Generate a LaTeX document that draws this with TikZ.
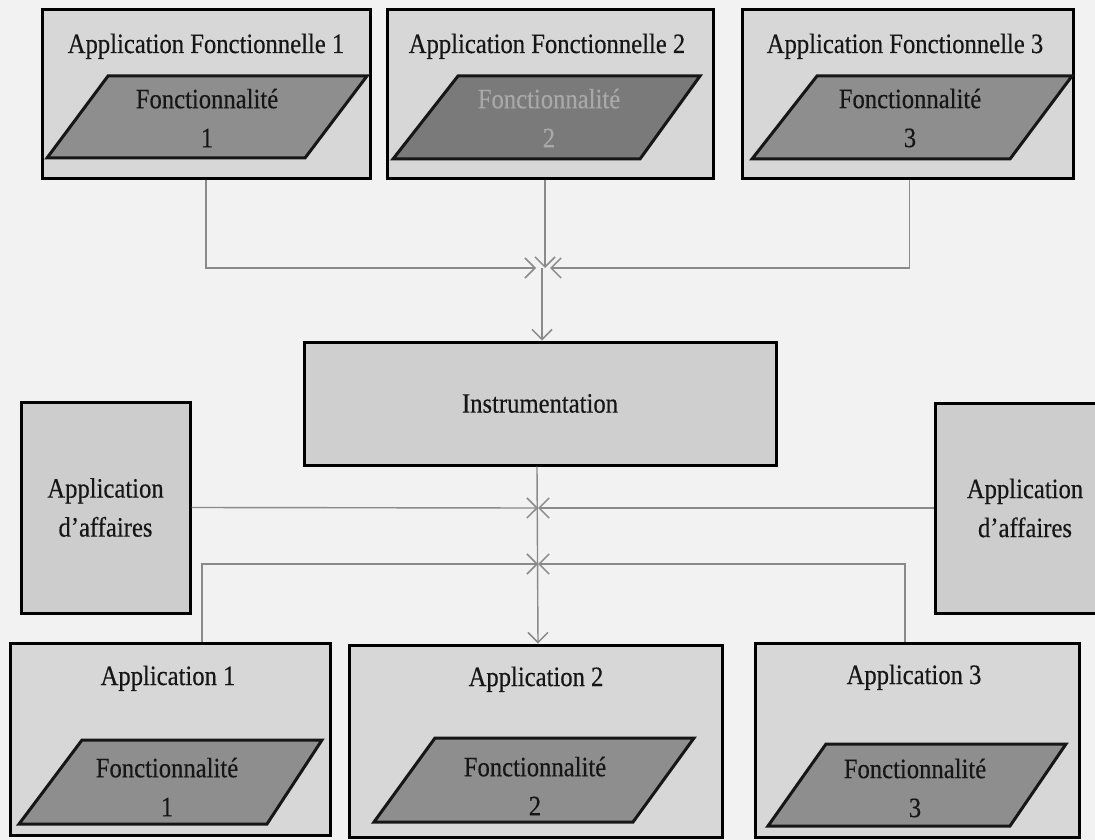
\documentclass[tikz,border=0pt]{standalone}
\usepackage{fontspec}
\newfontfamily\diagfont[FakeStretch=0.88,FakeBold=0.4]{Liberation Serif}
\usetikzlibrary{arrows.meta}
\definecolor{pagebg}{HTML}{F2F2F2}
\definecolor{boxfill}{HTML}{D7D7D7}
\definecolor{instfill}{HTML}{CFCFCF}
\definecolor{bizfill}{HTML}{CDCDCD}
\definecolor{parafill}{HTML}{8E8E8E}
\definecolor{paradark}{HTML}{7A7A7A}
\definecolor{linkgray}{HTML}{8A8A8A}
\definecolor{ink}{HTML}{161616}
\definecolor{faded}{HTML}{A9A9A9}

\begin{document}
\begin{tikzpicture}[x=1pt,y=-1pt,
  every node/.style={font=\diagfont\fontsize{28}{39}\selectfont, text=ink},
  box/.style={draw=black, line width=3pt, fill=boxfill, inner sep=0pt, align=center},
  para/.style={draw=ink, line width=3pt, fill=parafill, line join=miter},
  ptext/.style={align=center, inner sep=0pt},
  title/.style={anchor=base, inner sep=0pt},
  conn/.style={draw=linkgray, line width=1.4pt,
    -{Straight Barb[length=10pt,width=20pt,line width=1.5pt]}}
]
% page
\clip (0,0) rectangle (1095,840);
\fill[pagebg] (0,0) rectangle (1095,840);

% ---- functional applications (top row)
\node[box, minimum width=328pt, minimum height=168pt] (af1) at (206,94) {};
\node[title] (af1t) at (206,53) {Application Fonctionnelle 1};
\draw[para] (108,76) -- (367,76) -- (305,158) -- (47,158) -- cycle;
\node[ptext] (af1f) at (207,118) {Fonctionnalité\\1};

\node[box, minimum width=326pt, minimum height=168pt] (af2) at (550,94) {};
\node[title] (af2t) at (547,53) {Application Fonctionnelle 2};
\draw[para, fill=paradark] (458,76) -- (700,76) -- (640,159) -- (393,159) -- cycle;
\node[ptext, text=faded] (af2f) at (549,118) {Fonctionnalité\\2};

\node[box, minimum width=331pt, minimum height=168pt] (af3) at (907.5,94) {};
\node[title] (af3t) at (905,53) {Application Fonctionnelle 3};
\draw[para] (817,76) -- (1072,76) -- (1010,159) -- (752,159) -- cycle;
\node[ptext] (af3f) at (910,118) {Fonctionnalité\\3};

% ---- instrumentation and business applications
\node[box, fill=instfill, minimum width=472pt, minimum height=123pt] (inst) at (540,403.5) {Instrumentation};
\node[box, fill=bizfill, minimum width=169pt, minimum height=211pt] (biz1) at (105.5,507.5) {Application\\d’affaires};
\node[box, fill=bizfill, minimum width=180pt, minimum height=210pt] (biz2) at (1025,508) {Application\\d’affaires};

% ---- applications (bottom row)
\node[box, minimum width=320pt, minimum height=192pt] (app1) at (170,739) {};
\node[title] (app1t) at (168,685) {Application 1};
\draw[para] (82,740) -- (322,740) -- (267,824) -- (19,824) -- cycle;
\node[ptext] (app1f) at (167,787) {Fonctionnalité\\1};

\node[box, minimum width=373pt, minimum height=192pt] (app2) at (535.5,741) {};
\node[title] (app2t) at (536,686) {Application 2};
\draw[para] (435,738) -- (694,738) -- (633,822) -- (374,822) -- cycle;
\node[ptext] (app2f) at (535,786) {Fonctionnalité\\2};

\node[box, minimum width=324pt, minimum height=194pt] (app3) at (917,740) {};
\node[title] (app3t) at (914,684) {Application 3};
\draw[para] (826,744) -- (1066,744) -- (1010,826) -- (768,826) -- cycle;
\node[ptext] (app3f) at (915,788) {Fonctionnalité\\3};

% ---- junction points
\coordinate (m1) at (542,268);
\coordinate (m2) at (538,508);
\coordinate (m3) at (538,564);

% ---- connectors
\draw[conn] (af1.south) |- ([xshift=-6pt]m1);
\draw[conn] ([xshift=-5pt]af2.south) -- ([xshift=3pt]m1);
\draw[conn] ([xshift=2pt]af3.south) |- ([xshift=8pt]m1);
\draw[conn] (m1) -- (inst.north -| m1);

\draw[conn] (biz1.east) -- (m2);
\draw[conn] (biz2.west) -- (m2);
\draw[conn] ([xshift=-3pt]inst.south) -- (app2.north -| m2);

\draw[conn] ([xshift=32pt]app1.north) |- (m3);
\draw[conn] ([xshift=-12pt]app3.north) |- (m3);
\end{tikzpicture}
\end{document}
